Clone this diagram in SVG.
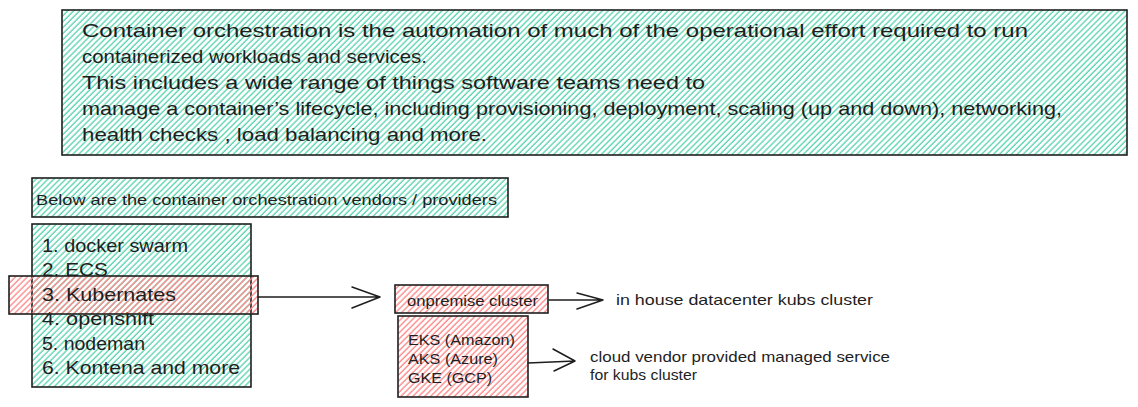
<svg xmlns="http://www.w3.org/2000/svg" width="1138" height="407" viewBox="0 0 1138 407">
  <defs>
    <pattern id="hatchGreen" patternUnits="userSpaceOnUse" width="4.2" height="4.2" patternTransform="rotate(45)">
      <line x1="1" y1="0" x2="1" y2="4.2" stroke="#5fd6b0" stroke-width="1.4"/>
    </pattern>
    <pattern id="hatchRed" patternUnits="userSpaceOnUse" width="4.2" height="4.2" patternTransform="rotate(45)">
      <line x1="1" y1="0" x2="1" y2="4.2" stroke="#ff8a8a" stroke-width="1.4"/>
    </pattern>
  </defs>
  <style>
    .box { stroke: #1e1e1e; stroke-width: 1.6; }
    .green { fill: url(#hatchGreen); }
    .red { fill: url(#hatchRed); }
    text { font-family: "Liberation Sans", "DejaVu Sans", sans-serif; fill: #1e1e1e; }
    .t20 { font-size: 19px; }
    .t16 { font-size: 15px; }
    .t14 { font-size: 14px; }
    .conn { stroke: #1e1e1e; stroke-width: 1.5; fill: none; stroke-linecap: round; stroke-linejoin: round; }
  </style>

  <g id="node-intro">
    <rect class="box green" x="62" y="10" width="1065" height="145"/>
    <text class="t20" x="82" y="37" textLength="946" lengthAdjust="spacingAndGlyphs">Container orchestration is the automation of much of the operational effort required to run</text>
    <text class="t20" x="82" y="63" textLength="345" lengthAdjust="spacingAndGlyphs">containerized workloads and services.</text>
    <text class="t20" x="82" y="89" textLength="623" lengthAdjust="spacingAndGlyphs">This includes a wide range of things software teams need to</text>
    <text class="t20" x="82" y="115" textLength="980" lengthAdjust="spacingAndGlyphs">manage a container’s lifecycle, including provisioning, deployment, scaling (up and down), networking,</text>
    <text class="t20" x="82" y="141" textLength="405" lengthAdjust="spacingAndGlyphs">health checks , load balancing and more.</text>
  </g>

  <g id="node-vendors-title">
    <rect class="box green" x="32" y="178" width="476" height="39"/>
    <text class="t16" x="36" y="205" textLength="461" lengthAdjust="spacingAndGlyphs">Below are the container orchestration vendors / providers</text>
  </g>

  <g id="node-vendor-list">
    <rect class="box green" x="32" y="224" width="219" height="163"/>
    <text class="t20" x="42" y="252" textLength="146" lengthAdjust="spacingAndGlyphs">1. docker swarm</text>
    <text class="t20" x="42" y="276" textLength="66" lengthAdjust="spacingAndGlyphs">2. ECS</text>
    <text class="t20" x="42" y="325" textLength="112" lengthAdjust="spacingAndGlyphs">4. openshift</text>
    <text class="t20" x="42" y="350" textLength="103" lengthAdjust="spacingAndGlyphs">5. nodeman</text>
    <text class="t20" x="42" y="374" textLength="198" lengthAdjust="spacingAndGlyphs">6. Kontena and more</text>
  </g>

  <g id="node-kubernetes">
    <rect class="box red" x="9" y="276" width="249" height="38"/>
    <text class="t20" x="42" y="301" textLength="134" lengthAdjust="spacingAndGlyphs">3. Kubernates</text>
  </g>

  <g id="node-onpremise">
    <rect class="box red" x="395" y="285" width="153" height="28"/>
    <text class="t14" x="407" y="306" textLength="131" lengthAdjust="spacingAndGlyphs">onpremise cluster</text>
  </g>

  <g id="node-managed">
    <rect class="box red" x="398" y="316" width="130" height="81"/>
    <text class="t14" x="408" y="345" textLength="107" lengthAdjust="spacingAndGlyphs">EKS (Amazon)</text>
    <text class="t14" x="408" y="364" textLength="90" lengthAdjust="spacingAndGlyphs">AKS (Azure)</text>
    <text class="t14" x="408" y="383" textLength="84" lengthAdjust="spacingAndGlyphs">GKE (GCP)</text>
  </g>

  <g id="node-inhouse-label">
    <text class="t16" x="616" y="305" textLength="257" lengthAdjust="spacingAndGlyphs">in house datacenter kubs cluster</text>
  </g>

  <g id="node-cloud-label">
    <text class="t16" x="590" y="362" textLength="300" lengthAdjust="spacingAndGlyphs">cloud vendor provided managed service</text>
    <text class="t16" x="590" y="380" textLength="107" lengthAdjust="spacingAndGlyphs">for kubs cluster</text>
  </g>

  <g id="connectors">
    <path class="conn" d="M258 297 L380 297 M352 287 L380 297 L352 308"/>
    <path class="conn" d="M549 300 L603 300 M577 293 L603 300 L577 309"/>
    <path class="conn" d="M528 363 L575 361 M553 349 L575 361 L554 371"/>
  </g>
</svg>
